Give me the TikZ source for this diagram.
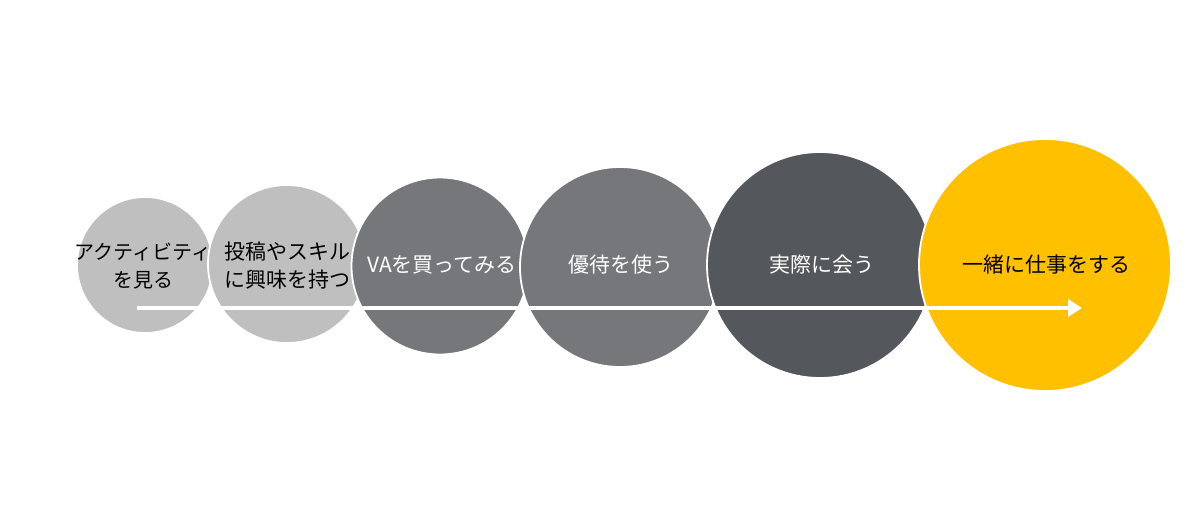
\documentclass[tikz,border=0pt]{standalone}
\usepackage{fontspec}
\newfontfamily\jp{Noto Sans CJK JP}
\usetikzlibrary{arrows.meta}
\definecolor{lgray}{HTML}{BFBFBF}
\definecolor{mgray}{HTML}{75777A}
\definecolor{dgray}{HTML}{54575B}
\definecolor{gold}{HTML}{FFC000}
\tikzset{
  bubble/.style={circle, draw=white, line width=1.8pt, inner sep=0pt},
  lbl/.style={font=\jp\fontsize{21}{28}\selectfont, align=center, inner sep=0pt},
  flow/.style={draw=white, line width=3.5pt, -{Triangle[length=14pt,width=17pt]}}
}
\begin{document}
\begin{tikzpicture}[x={(1pt,0)}, y={(0,-1pt)}]
\useasboundingbox[fill=white] (0,0) rectangle (1200,517);
\node[bubble, fill=lgray, minimum size=136pt] (c1) at (145,265) {};
\node[bubble, fill=lgray, minimum size=158pt] (c2) at (287,264) {};
\node[bubble, fill=mgray, minimum size=177pt] (c3) at (440,266) {};
\node[bubble, fill=mgray, minimum size=200pt] (c4) at (620,267) {};
\node[bubble, fill=dgray, minimum size=226pt] (c5) at (820,265) {};
\node[bubble, fill=gold, minimum size=252pt] (c6) at (1045,265) {};
\coordinate (as) at (137,308);
\coordinate (ae) at (1082,308);
\draw[flow] (as) -- (ae);
\node[lbl, text=black, font=\jp\fontsize{20}{28}\selectfont] (t1) at (143,266) {アクティビティ\\を見る};
\node[lbl, text=black] (t2) at (287,266) {投稿やスキル\\に興味を持つ};
\node[lbl, text=white] (t3) at (442,265) {VAを買ってみる};
\node[lbl, text=white] (t4) at (621,265) {優待を使う};
\node[lbl, text=white] (t5) at (822,265) {実際に会う};
\node[lbl, text=black] (t6) at (1046,265) {一緒に仕事をする};
\end{tikzpicture}
\end{document}
